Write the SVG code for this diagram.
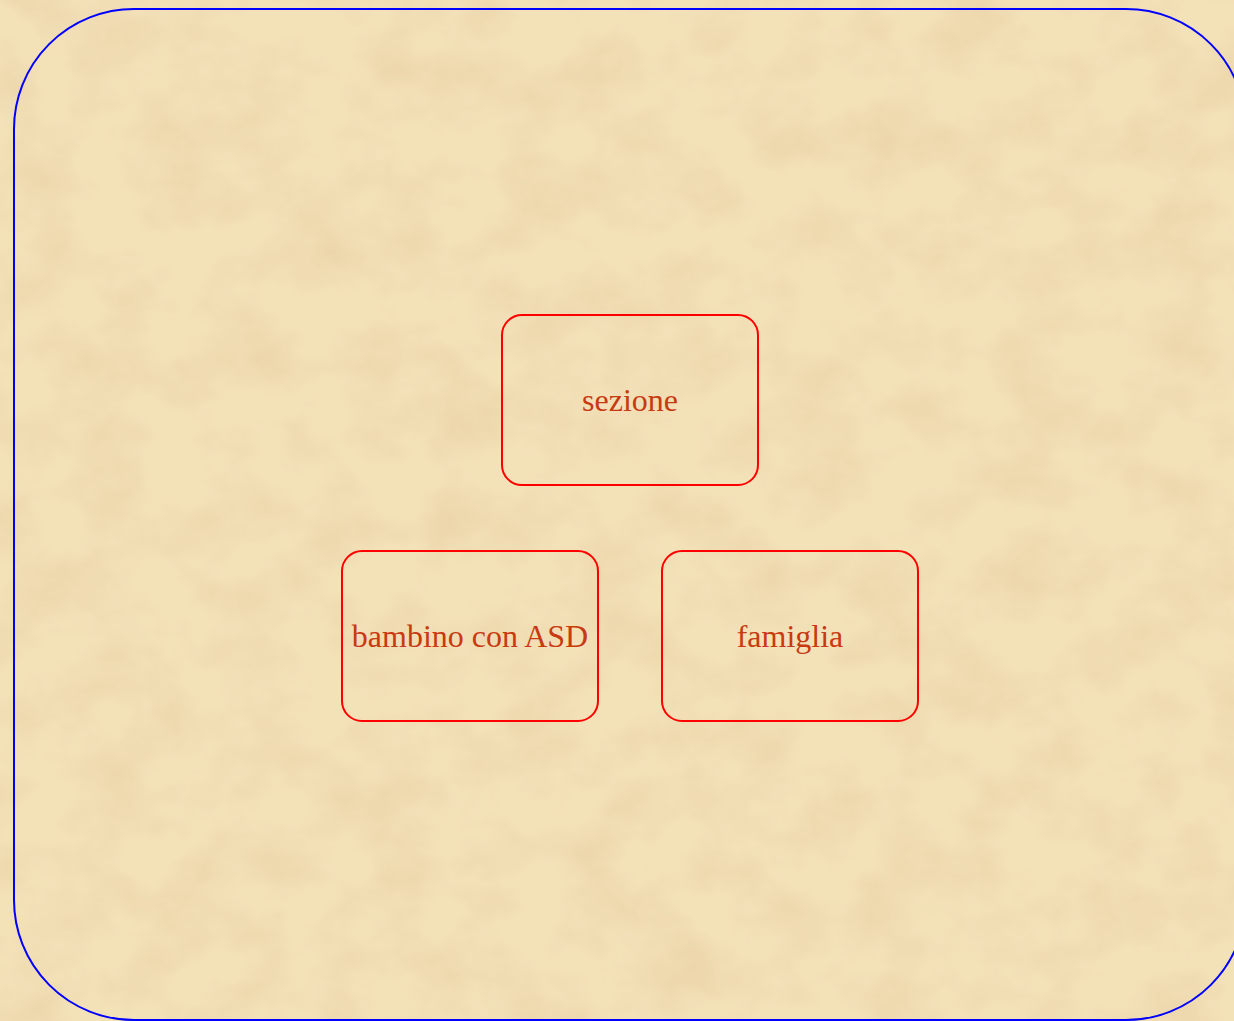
<svg xmlns="http://www.w3.org/2000/svg" width="1234" height="1021" viewBox="0 0 1234 1021">
  <defs>
    <filter id="parchment" x="0" y="0" width="100%" height="100%">
      <feTurbulence type="fractalNoise" baseFrequency="0.014 0.018" numOctaves="4" seed="7" result="noise"/>
      <feColorMatrix in="noise" type="matrix" values="0 0 0 0 0.84  0 0 0 0 0.66  0 0 0 0 0.40  0 0 0 1.8 -0.72" result="tint"/>
      <feComposite in="tint" in2="SourceGraphic" operator="over"/>
    </filter>
    <style>
      .node rect { fill: none; stroke: #ff0000; stroke-width: 2; }
      .node text { font-family: "Liberation Serif", "Times New Roman", serif; font-size: 32px; fill: #c83a10; text-anchor: middle; }
      .frame { fill: none; stroke: #0000ff; stroke-width: 2; }
    </style>
  </defs>
  <rect x="0" y="0" width="1234" height="1021" fill="#f3e1b8" filter="url(#parchment)"/>
  <rect class="frame" x="14" y="9" width="1232" height="1011" rx="120" ry="120"/>
  <g id="connectors"></g>
  <g id="node-sezione" class="node">
    <rect x="502" y="315" width="256" height="170" rx="20" ry="20"/>
    <text x="630" y="411">sezione</text>
  </g>
  <g id="node-bambino" class="node">
    <rect x="342" y="551" width="256" height="170" rx="20" ry="20"/>
    <text x="470" y="647">bambino con ASD</text>
  </g>
  <g id="node-famiglia" class="node">
    <rect x="662" y="551" width="256" height="170" rx="20" ry="20"/>
    <text x="790" y="647">famiglia</text>
  </g>
</svg>
